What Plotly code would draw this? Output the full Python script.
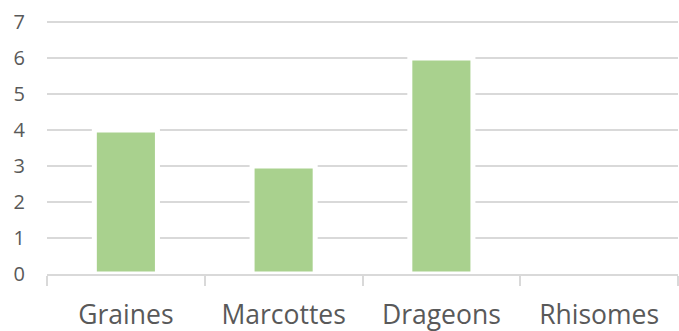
import plotly.graph_objects as go

categories = ["Graines", "Marcottes", "Drageons", "Rhisomes"]
values = [4, 3, 6, 0]
y_ticks = [0, 1, 2, 3, 4, 5, 6, 7]

fig = go.Figure(
    go.Bar(
        x=categories,
        y=values,
        marker=dict(color="#a9d18e", line=dict(color="white", width=5)),
        hoverinfo="skip",
    )
)

fig.update_layout(
    width=679,
    height=331,
    margin=dict(l=47, r=1, t=21, b=57),
    paper_bgcolor="white",
    plot_bgcolor="white",
    bargap=0.6,
    showlegend=False,
    font=dict(family="Open Sans", color="#595959"),
)

fig.update_yaxes(
    range=[0, 7.03],
    tickvals=y_ticks,
    showgrid=True,
    gridcolor="#d9d9d9",
    gridwidth=1.5,
    zeroline=False,
    showline=False,
    tickfont=dict(size=20, color="#595959"),
    ticks="outside",
    ticklen=17,
    tickcolor="rgba(0,0,0,0)",
    automargin=False,
)

fig.update_xaxes(
    showline=True,
    linecolor="#d9d9d9",
    linewidth=1.5,
    ticks="outside",
    tickson="boundaries",
    ticklen=10,
    tickcolor="#d9d9d9",
    tickwidth=1.5,
    tickfont=dict(size=26.5, color="#595959"),
    ticklabelstandoff=16,
    automargin=False,
)

fig.write_html("out.html")
